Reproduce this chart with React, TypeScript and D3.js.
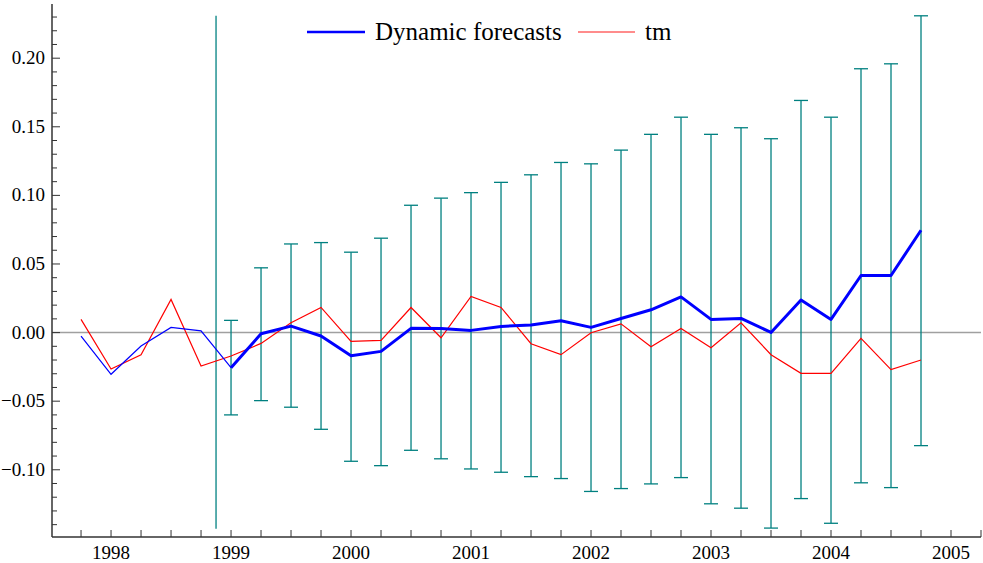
import React, { useEffect, useRef } from 'react';
import * as d3 from 'd3';

// quarterly dates (decimal years)
const dates = [
  1997.75, 1998.0, 1998.25, 1998.5, 1998.75, 1999.0, 1999.25, 1999.5, 1999.75,
  2000.0, 2000.25, 2000.5, 2000.75, 2001.0, 2001.25, 2001.5, 2001.75,
  2002.0, 2002.25, 2002.5, 2002.75, 2003.0, 2003.25, 2003.5, 2003.75,
  2004.0, 2004.25, 2004.5, 2004.75,
];

// actual series
const tm = [
  0.0096, -0.0266, -0.0161, 0.0242, -0.0244, -0.0171, -0.0079, 0.0071, 0.0183,
  -0.0064, -0.0057, 0.0183, -0.0038, 0.0263, 0.0183, -0.0081, -0.0161,
  -0.0001, 0.0064, -0.0103, 0.003, -0.011, 0.0071, -0.0161, -0.0297,
  -0.0297, -0.0042, -0.027, -0.02,
];

// fitted values before the forecast period (first 6 dates)
const fitted = [-0.0025, -0.0304, -0.0098, 0.0038, 0.0013, -0.0256];

// dynamic forecasts with error bands (dates from 1999.0 on)
const forecast = [
  -0.0256, -0.0009, 0.0047, -0.0025, -0.0169, -0.0137, 0.0031, 0.003,
  0.0016, 0.0045, 0.0055, 0.0086, 0.0038, 0.0103, 0.0166, 0.026,
  0.0096, 0.0103, 0.0001, 0.0237, 0.0096, 0.0416, 0.0416, 0.0746,
];
const upper = [
  0.0089, 0.0472, 0.0646, 0.0656, 0.0586, 0.0688, 0.0928, 0.098,
  0.102, 0.1095, 0.115, 0.124, 0.123, 0.133, 0.1445, 0.157,
  0.1445, 0.1493, 0.1413, 0.1692, 0.157, 0.1923, 0.1959, 0.2309,
];
const lower = [
  -0.06, -0.0496, -0.0544, -0.0705, -0.0938, -0.097, -0.0858, -0.092,
  -0.0994, -0.1018, -0.105, -0.1064, -0.1158, -0.1137, -0.1103, -0.1057,
  -0.1248, -0.128, -0.1425, -0.121, -0.139, -0.1095, -0.113, -0.0824,
];

// forecast start marker
const markerDate = 1998.875;
const markerRange = [-0.143, 0.231];

const yearTicks = [1998, 1999, 2000, 2001, 2002, 2003, 2004, 2005];
const yLabels = [-0.1, -0.05, 0, 0.05, 0.1, 0.15, 0.2];

const W = 983;
const H = 563;
const FONT = '"Liberation Serif", "Times New Roman", serif';
const TEAL = '#008080';

const App = () => {
  const svgRef = useRef(null);

  useEffect(() => {
    const svg = d3.select(svgRef.current);
    svg.selectAll('*').remove();

    const x = d3.scaleLinear().domain([1997.508, 2005.25]).range([52, 981]);
    const y = d3.scaleLinear().domain([-0.149, 0.2395]).range([537, 4]);

    const g = svg.append('g');

    // zero line
    g.append('line')
      .attr('x1', x.range()[0]).attr('x2', x.range()[1])
      .attr('y1', y(0)).attr('y2', y(0))
      .attr('stroke', '#a0a0a0').attr('stroke-width', 1.5);

    // forecast start marker
    g.append('line')
      .attr('x1', x(markerDate)).attr('x2', x(markerDate))
      .attr('y1', y(markerRange[0])).attr('y2', y(markerRange[1]))
      .attr('stroke', TEAL).attr('stroke-width', 1.3);

    // error bars
    const fDates = dates.slice(dates.length - forecast.length);
    const bars = g.append('g').attr('stroke', TEAL).attr('stroke-width', 1.3);
    fDates.forEach((d, i) => {
      bars.append('line')
        .attr('x1', x(d)).attr('x2', x(d))
        .attr('y1', y(lower[i])).attr('y2', y(upper[i]));
      [lower[i], upper[i]].forEach(v => {
        bars.append('line')
          .attr('x1', x(d) - 7).attr('x2', x(d) + 7)
          .attr('y1', y(v)).attr('y2', y(v));
      });
    });

    const line = d3.line().x(d => x(d[0])).y(d => y(d[1]));

    // tm
    g.append('path')
      .attr('d', line(dates.map((d, i) => [d, tm[i]])))
      .attr('fill', 'none').attr('stroke', '#ff0000').attr('stroke-width', 1.2);

    // fitted (thin blue)
    g.append('path')
      .attr('d', line(fitted.map((v, i) => [dates[i], v])))
      .attr('fill', 'none').attr('stroke', '#0000ff').attr('stroke-width', 1.2);

    // forecasts (thick blue)
    g.append('path')
      .attr('d', line(forecast.map((v, i) => [fDates[i], v])))
      .attr('fill', 'none').attr('stroke', '#0000ff').attr('stroke-width', 3)
      .attr('stroke-linejoin', 'round');

    // axes
    const axisColor = '#333';
    g.append('line')
      .attr('x1', 52).attr('x2', 52).attr('y1', 4).attr('y2', 537)
      .attr('stroke', axisColor).attr('stroke-width', 1.5);
    g.append('line')
      .attr('x1', 52).attr('x2', 981).attr('y1', 537).attr('y2', 537)
      .attr('stroke', axisColor).attr('stroke-width', 1.5);

    // y ticks every 0.01, labels every 0.05
    const yMinor = d3.range(-14, 24).map(k => k / 100);
    yMinor.forEach(v => {
      const major = Math.abs(Math.round(v * 100) % 5) === 0;
      g.append('line')
        .attr('x1', 52).attr('x2', 52 + (major ? 8 : 5))
        .attr('y1', y(v)).attr('y2', y(v))
        .attr('stroke', axisColor).attr('stroke-width', 1);
    });
    yLabels.forEach(v => {
      g.append('text')
        .attr('x', 45).attr('y', y(v) + 6)
        .attr('text-anchor', 'end')
        .style('font-family', FONT).style('font-size', '19px')
        .text(d3.format('.2f')(v));
    });

    // x ticks every quarter, labels at years
    const xMinor = d3.range(1997.75, 2005.3, 0.25);
    xMinor.forEach(d => {
      g.append('line')
        .attr('x1', x(d)).attr('x2', x(d))
        .attr('y1', 537).attr('y2', 530)
        .attr('stroke', axisColor).attr('stroke-width', 1);
    });
    yearTicks.forEach(d => {
      g.append('text')
        .attr('x', x(d)).attr('y', 559)
        .attr('text-anchor', 'middle')
        .style('font-family', FONT).style('font-size', '19px')
        .text(d);
    });

    // legend
    const legend = g.append('g').style('font-family', FONT).style('font-size', '25px');
    legend.append('line')
      .attr('x1', 307).attr('x2', 365).attr('y1', 32).attr('y2', 32)
      .attr('stroke', '#0000ff').attr('stroke-width', 2.5);
    legend.append('text').attr('x', 375).attr('y', 40).text('Dynamic forecasts');
    legend.append('line')
      .attr('x1', 578).attr('x2', 635).attr('y1', 32).attr('y2', 32)
      .attr('stroke', '#ff6666').attr('stroke-width', 1.5);
    legend.append('text').attr('x', 645).attr('y', 40).text('tm');
  }, []);

  return (
    <svg
      ref={svgRef}
      width={W}
      height={H}
      style={{ position: 'absolute', left: 0, top: 0, background: '#fff' }}
    />
  );
};

export default App;
